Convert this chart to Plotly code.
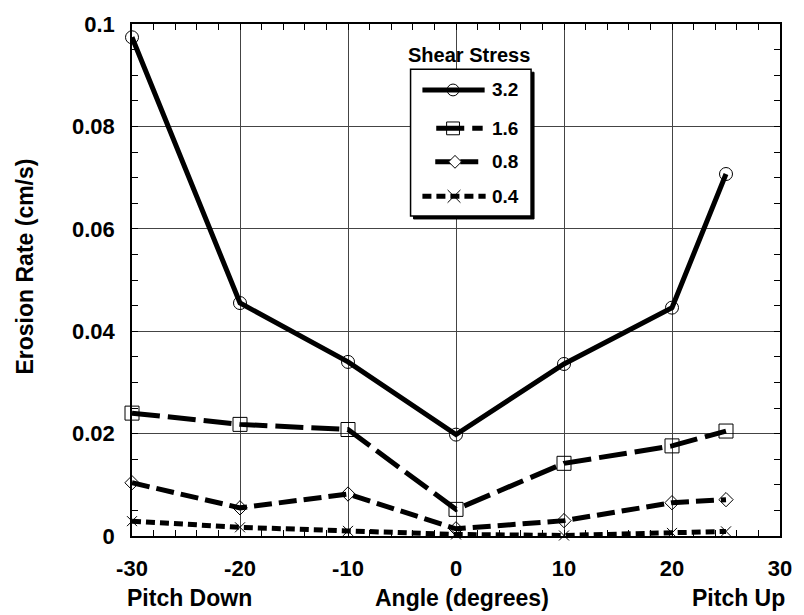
import plotly.graph_objects as go

# Erosion rate vs. pitch angle for four shear stress levels
angles = [-30, -20, -10, 0, 10, 20, 25]
stress_labels = ["3.2", "1.6", "0.8", "0.4"]
rate_32 = [0.0974, 0.0455, 0.0340, 0.0198, 0.0336, 0.0446, 0.0707]
rate_16 = [0.0240, 0.0218, 0.0208, 0.0052, 0.0142, 0.0176, 0.0205]
rate_08 = [0.0104, 0.0055, 0.0082, 0.0014, 0.0030, 0.0065, 0.0071]
rate_04 = [0.0029, 0.0017, 0.0010, 0.0003, 0.0001, 0.0006, 0.0009]

x_ticks = [-30, -20, -10, 0, 10, 20, 30]
y_ticks = [0, 0.02, 0.04, 0.06, 0.08, 0.1]
y_ticktext = ["0", "0.02", "0.04", "0.06", "0.08", "0.1"]

series = [rate_32, rate_16, rate_08, rate_04]
dashes = ["solid", "28px,8px", "18px,7px", "9px,5px"]
line_w = 5
symbols = ["circle-open", "square-open", "diamond-open", "x-thin-open"]
msizes = [13, 14, 11, 10]

FONT = "Liberation Sans, Arial, sans-serif"

W, H = 804, 615
ml, mr, mt, mb = 132, 16, 16, 79
pw, ph = W - ml - mr, H - mt - mb


def px_x(p):
    return (p - ml) / pw


def px_y(p):
    return 1 - (p - mt) / ph


def label(fig, x, y, text, size, xanchor="center", angle=0):
    fig.add_annotation(x=px_x(x), y=px_y(y), xref="paper", yref="paper",
                       text=f"<b>{text}</b>", showarrow=False, textangle=angle,
                       xanchor=xanchor, yanchor="middle",
                       font=dict(family=FONT, size=size, color="black"))


fig = go.Figure()

for vals, dash in zip(series, dashes):
    fig.add_trace(go.Scatter(
        x=angles, y=vals, mode="lines",
        line=dict(color="black", width=line_w, dash=dash),
        showlegend=False, hoverinfo="skip", cliponaxis=False,
    ))
for vals, sym, ms in zip(series, symbols, msizes):
    fig.add_trace(go.Scatter(
        x=angles, y=vals, mode="markers",
        marker=dict(symbol=sym, size=ms, color="black",
                    line=dict(color="black", width=1)),
        showlegend=False, hoverinfo="skip", cliponaxis=False,
    ))

# ---- legend box with drop shadow, drawn as shapes above the plot ----
lx0, lx1, ly0, ly1 = 414, 536, 62, 211
shadow = 3
fig.add_shape(type="rect", xref="paper", yref="paper",
              x0=px_x(lx0 + shadow), x1=px_x(lx1 + shadow),
              y0=px_y(ly1 + shadow), y1=px_y(ly0 + shadow),
              fillcolor="black", line=dict(color="black", width=1), layer="above")
fig.add_shape(type="rect", xref="paper", yref="paper",
              x0=px_x(lx0), x1=px_x(lx1), y0=px_y(ly1), y1=px_y(ly0),
              fillcolor="white", line=dict(color="black", width=1.5), layer="above")

row_y = [83, 122, 156, 191]
seg_start = [426, 440, 439, 426]
seg_end = [489, 487, 487, 490]
mark_x = [457, 457, 459, 458]
thin = dict(color="black", width=1)

for i, lab in enumerate(stress_labels):
    yy = row_y[i]
    fig.add_shape(type="line", xref="paper", yref="paper",
                  x0=px_x(seg_start[i]), x1=px_x(seg_end[i]),
                  y0=px_y(yy), y1=px_y(yy),
                  line=dict(color="black", width=line_w, dash=dashes[i]), layer="above")
    cx = mark_x[i]
    if i == 0:
        r = 6
        fig.add_shape(type="circle", xref="paper", yref="paper",
                      x0=px_x(cx - r), x1=px_x(cx + r), y0=px_y(yy + r), y1=px_y(yy - r),
                      line=thin, layer="above")
    elif i == 1:
        r = 6.5
        fig.add_shape(type="rect", xref="paper", yref="paper",
                      x0=px_x(cx - r), x1=px_x(cx + r), y0=px_y(yy + r), y1=px_y(yy - r),
                      line=thin, layer="above")
    elif i == 2:
        r = 6.5
        pts = [(cx - r, yy), (cx, yy - r), (cx + r, yy), (cx, yy + r)]
        path = "M " + " L ".join(f"{px_x(a)},{px_y(b)}" for a, b in pts) + " Z"
        fig.add_shape(type="path", xref="paper", yref="paper", path=path,
                      fillcolor="white", line=thin, layer="above")
    else:
        r = 6.5
        for sgn in (1, -1):
            fig.add_shape(type="line", xref="paper", yref="paper",
                          x0=px_x(cx - r), x1=px_x(cx + r),
                          y0=px_y(yy - sgn * r), y1=px_y(yy + sgn * r),
                          line=thin, layer="above")
    label(fig, 494, yy, lab, 19, xanchor="left")

label(fig, 473, 47, "Shear Stress", 20)

# ---- axis captions ----
label(fig, 190, 599, "Pitch Down", 23)
label(fig, 466, 599, "Angle (degrees)", 23)
label(fig, 746, 599, "Pitch Up", 23)
label(fig, 24, 262, "Erosion Rate (cm/s)", 23, angle=-90)

axis_common = dict(
    showline=True, linecolor="black", linewidth=1.5, mirror="allticks",
    ticks="inside", ticklen=6, tickcolor="black", tickwidth=1,
    showgrid=True, gridcolor="#444", gridwidth=1, zeroline=False,
    tickfont=dict(family=FONT, size=22, color="black"),
)

fig.update_layout(
    width=W, height=H,
    margin=dict(l=ml, r=mr, t=mt, b=mb),
    paper_bgcolor="white", plot_bgcolor="white",
    xaxis=dict(range=[-30, 30], tickvals=x_ticks,
               ticktext=[f"<b>{v}</b>" for v in x_ticks],
               ticklabelstandoff=12,
               minor=dict(dtick=2, ticks="inside", ticklen=6, tickcolor="black",
                          showgrid=False),
               **axis_common),
    yaxis=dict(range=[0, 0.1], tickvals=y_ticks,
               ticktext=[f"<b>{t}</b>" for t in y_ticktext],
               ticklabelstandoff=11,
               minor=dict(dtick=0.005, ticks="inside", ticklen=6, tickcolor="black",
                          showgrid=False),
               **axis_common),
    showlegend=False,
)

fig.write_html("out.html")
